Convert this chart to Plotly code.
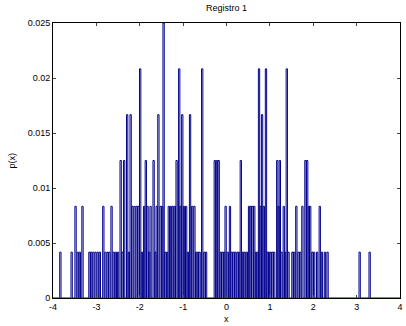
import plotly.graph_objects as go

# Bin centres (x) and sample counts in each occupied bin; p(x) = count / N
bin_x = [-3.83, -3.57, -3.48, -3.43, -3.38, -3.32, -3.16, -3.12, -3.07, -3.02, -2.97, -2.92,
         -2.84, -2.79, -2.74, -2.70, -2.65, -2.60, -2.55, -2.50, -2.44, -2.40, -2.36, -2.29,
         -2.25, -2.21, -2.17, -2.12, -2.07, -2.03, -1.99, -1.95, -1.90, -1.86, -1.82, -1.78,
         -1.75, -1.68, -1.64, -1.61, -1.57, -1.52, -1.48, -1.45, -1.41, -1.37, -1.33, -1.28,
         -1.24, -1.19, -1.15, -1.09, -1.06, -1.02, -0.98, -0.93, -0.89, -0.84, -0.79, -0.74,
         -0.70, -0.66, -0.62, -0.56, -0.51, -0.47, -0.27, -0.22, -0.18, -0.13, -0.09, -0.05,
         -0.02, 0.03, 0.08, 0.12, 0.16, 0.20, 0.25, 0.29, 0.33, 0.38, 0.42, 0.47, 0.52, 0.56,
         0.60, 0.64, 0.68, 0.72, 0.75, 0.79, 0.82, 0.86, 0.91, 0.95, 0.98, 1.02, 1.06, 1.10,
         1.17, 1.20, 1.23, 1.27, 1.32, 1.35, 1.39, 1.43, 1.52, 1.56, 1.61, 1.66, 1.70, 1.75,
         1.82, 1.86, 1.90, 1.93, 1.98, 2.02, 2.09, 2.15, 2.20, 2.27, 2.33, 3.07, 3.30]
bin_count = [1, 1, 2, 1, 1, 2, 1, 1, 1, 1, 1, 1,
             2, 1, 1, 1, 2, 1, 1, 1, 3, 1, 3, 4,
             1, 4, 2, 2, 2, 2, 5, 1, 2, 3, 2, 1,
             2, 3, 1, 2, 4, 2, 2, 6, 1, 1, 2, 2,
             2, 2, 3, 5, 2, 4, 2, 2, 1, 4, 2, 2,
             1, 1, 1, 5, 1, 1, 3, 3, 3, 1, 1, 1,
             2, 1, 2, 1, 1, 1, 1, 1, 3, 1, 1, 1, 2, 2,
             2, 2, 1, 1, 5, 2, 4, 2, 5, 1, 1, 1, 1, 1,
             3, 2, 3, 1, 2, 1, 5, 1, 1, 1, 2, 1, 1, 2,
             3, 3, 2, 2, 1, 1, 1, 2, 1, 1, 1, 1, 1]
N_SAMPLES = 240
BIN_W = 0.03

x_ticks = [-4, -3, -2, -1, 0, 1, 2, 3, 4]
x_tick_text = ["-4", "-3", "-2", "-1", "0", "1", "2", "3", "4"]
y_ticks = [0, 0.005, 0.01, 0.015, 0.02, 0.025]
y_tick_text = ["0", "0.005", "0.01", "0.015", "0.02", "0.025"]

# build stairs path (hv) from bins
pairs = sorted(zip(bin_x, bin_count))
xs, ys = [-4.0], [0.0]
for i, (c, n) in enumerate(pairs):
    left = c - BIN_W / 2
    right = c + BIN_W / 2
    if i + 1 < len(pairs):
        right = min(right, pairs[i + 1][0] - BIN_W / 2)
    xs += [left, right]
    ys += [n / N_SAMPLES, 0.0]
xs.append(4.0)
ys.append(0.0)

font = "Liberation Sans, Arial, sans-serif"
fig = go.Figure()
fig.add_trace(go.Scatter(x=xs, y=ys, mode="lines", line_shape="hv",
                         line=dict(color="rgb(0,0,140)", width=1.0),
                         showlegend=False, hoverinfo="skip"))

fig.update_layout(
    width=406, height=326,
    margin=dict(l=53, r=3, t=23, b=28),
    paper_bgcolor="white", plot_bgcolor="white",
    font=dict(family=font, size=9, color="black"),
    xaxis=dict(range=[-4, 4], tickvals=x_ticks, ticktext=x_tick_text,
               ticks="inside", ticklen=3,
               showline=True, linecolor="black", linewidth=1, mirror="ticks",
               showgrid=False, zeroline=False, tickfont=dict(size=9)),
    yaxis=dict(range=[0, 0.025], tickvals=y_ticks, ticktext=y_tick_text,
               ticks="inside", ticklen=3,
               showline=True, linecolor="black", linewidth=1, mirror="ticks",
               showgrid=False, zeroline=False, tickfont=dict(size=9)),
    annotations=[
        dict(text="Registro 1", x=0.5, y=1, xref="paper", yref="paper",
             xanchor="center", yanchor="bottom", yshift=8, showarrow=False,
             font=dict(size=9)),
        dict(text="x", x=0.5, y=0, xref="paper", yref="paper",
             xanchor="center", yanchor="top", yshift=-14, showarrow=False,
             font=dict(size=9)),
        dict(text="p(x)", x=0, y=0.5, xref="paper", yref="paper",
             xanchor="center", yanchor="middle", xshift=-42, textangle=-90,
             showarrow=False, font=dict(size=9)),
    ],
)

fig.write_html("out.html", config={"displayModeBar": False},
               post_script="document.body.style.margin='0px';")
